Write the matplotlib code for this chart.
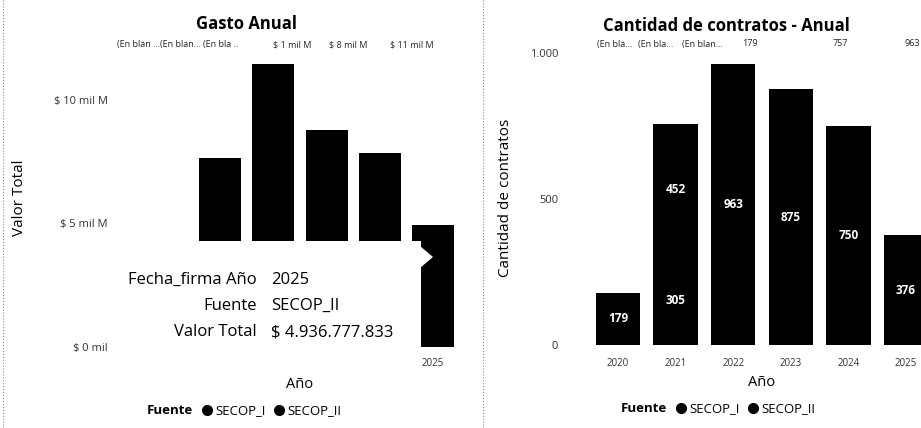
import matplotlib
matplotlib.use("Agg")
import matplotlib.pyplot as plt
from matplotlib.patches import Rectangle, Polygon
from matplotlib.lines import Line2D

plt.rcParams['font.family'] = ['Open Sans', 'DejaVu Sans']

# data
years = ['2020', '2021', '2022', '2023', '2024', '2025']
gasto_secop_i = [1.0, 3.0, 0, 0, 0, 0]              # mil M
gasto_secop_ii = [0, 4.65, 11.46, 8.79, 7.85, 4.94]  # mil M
gasto_ticks = [0, 5, 10]
gasto_tick_labels = ['$ 0 mil', '$ 5 mil M', '$ 10 mil M']
gasto_top_labels = ['(En blan ...', '(En blan...', '(En bla ..', '$ 1 mil M', '$ 8 mil M', '$ 11 mil M']

contratos_secop_i = [179, 305, 0, 0, 0, 0]
contratos_secop_ii = [0, 452, 963, 875, 750, 376]
contratos_ticks = [0, 500, 1000]
contratos_tick_labels = ['0', '500', '1.000']
contratos_top_labels = ['(En bla...', '(En bla...', '(En blan...', '179', '757', '963']

tooltip_keys = ['Fecha_firma Año', 'Fuente', 'Valor Total']
tooltip_vals = ['2025', 'SECOP_II', '$ 4.936.777.833']

W, H = 921, 428
def fx(px):
    return px / W
def fy(py):
    return 1 - py / H

fig = plt.figure(figsize=(W / 100, H / 100), dpi=100)
fig.patch.set_facecolor('white')

c1 = '#000000'
c2 = '#000000'
tick_col = '#333333'

def style(ax):
    for s in ax.spines.values():
        s.set_visible(False)
    ax.tick_params(length=0, colors=tick_col)
    ax.tick_params(axis='y', labelsize=8, pad=5)
    ax.tick_params(axis='x', labelsize=7)
    ax.set_facecolor('none')

# ---- left: Gasto Anual
ax1 = fig.add_axes([fx(115), fy(347), fx(460) - fx(115), fy(58) - fy(347)])
x = list(range(len(years)))
ax1.bar(x, gasto_secop_i, width=0.79, color=c1)
ax1.bar(x, gasto_secop_ii, width=0.79, bottom=gasto_secop_i, color=c2)
ax1.set_xlim(-0.977, 5.507)
ax1.set_ylim(0, 11.7)
ax1.set_yticks(gasto_ticks)
ax1.set_yticklabels(gasto_tick_labels)
ax1.set_xticks(x)
ax1.set_xticklabels(years)
style(ax1)
ax1.tick_params(axis='x', pad=8)

fig.text(fx(246), fy(24), 'Gasto Anual', ha='center', va='center', fontsize=12, fontweight='bold')
left_pos = [139, 180, 221, 292, 348, 412]
for p, t in zip(left_pos, gasto_top_labels):
    fig.text(fx(p), fy(45), t, ha='center', va='center', fontsize=6.5, color='#222222')
fig.text(fx(20), fy(198), 'Valor Total', rotation=90, ha='center', va='center', fontsize=11)
fig.text(fx(300), fy(385), 'Año', ha='center', va='center', fontsize=10.5)

# ---- right: Cantidad de contratos
ax2 = fig.add_axes([fx(565), fy(345), (930 - 565) / W, (345 - 40) / H])
ax2.bar(x, contratos_secop_i, width=0.77, color=c1)
ax2.bar(x, contratos_secop_ii, width=0.77, bottom=contratos_secop_i, color=c2)
for i in x:
    if contratos_secop_i[i] > 0:
        ax2.text(i, contratos_secop_i[i] / 2, str(contratos_secop_i[i]), color='white',
                 ha='center', va='center', fontsize=8.5, fontweight='bold')
    if contratos_secop_ii[i] > 0:
        ax2.text(i, contratos_secop_i[i] + contratos_secop_ii[i] / 2, str(contratos_secop_ii[i]),
                 color='white', ha='center', va='center', fontsize=8.5, fontweight='bold')
ax2.set_xlim(-0.92, 5.417)
ax2.set_ylim(0, 1044)
ax2.set_yticks(contratos_ticks)
ax2.set_yticklabels(contratos_tick_labels)
ax2.set_xticks(x)
ax2.set_xticklabels(years)
style(ax2)
ax2.tick_params(axis='x', pad=9)

fig.text(fx(726), fy(26), 'Cantidad de contratos - Anual', ha='center', va='center',
         fontsize=12, fontweight='bold')
right_pos = [615, 656, 702, 750, 840, 912]
for p, t in zip(right_pos, contratos_top_labels):
    fig.text(fx(p), fy(44), t, ha='center', va='center', fontsize=6.5, color='#222222')
fig.text(fx(505), fy(198), 'Cantidad de contratos', rotation=90, ha='center', va='center', fontsize=11)
fig.text(fx(762), fy(382), 'Año', ha='center', va='center', fontsize=10.5)

# legends
def legend_at(ax, cx, cy):
    h = [Line2D([], [], linestyle='none'),
         Line2D([], [], marker='o', linestyle='none', color=c1, markersize=7),
         Line2D([], [], marker='o', linestyle='none', color=c2, markersize=7)]
    leg = ax.legend(h, ['Fuente', 'SECOP_I', 'SECOP_II'], ncol=3, frameon=False,
                    loc='center', bbox_to_anchor=(fx(cx), fy(cy)), bbox_transform=fig.transFigure,
                    fontsize=9.5, handlelength=0.7, handletextpad=0.25, columnspacing=0.7)
    leg.get_texts()[0].set_fontweight('bold')
    return leg

legend_at(ax1, 238, 411)
legend_at(ax2, 712, 409)

# tooltip over the left chart
tip = Rectangle((fx(108), fy(372)), fx(421) - fx(108), fy(241) - fy(372),
                transform=fig.transFigure, facecolor='white', edgecolor='none', zorder=5)
fig.patches.append(tip)
arrow = Polygon([(fx(420), fy(246)), (fx(433), fy(257)), (fx(420), fy(268))],
                closed=True, transform=fig.transFigure, facecolor='white', edgecolor='none', zorder=5)
fig.patches.append(arrow)
for i, (k, v) in enumerate(zip(tooltip_keys, tooltip_vals)):
    yy = fy(280 + i * 26)
    fig.text(fx(257), yy, k, ha='right', va='center', fontsize=12, zorder=6)
    fig.text(fx(271), yy, v, ha='left', va='center', fontsize=12, zorder=6)

# panel separators
fig.add_artist(Line2D([fx(3), fx(3)], [0, 1], transform=fig.transFigure, color='#888888',
                      linestyle=':', linewidth=0.8))
fig.add_artist(Line2D([fx(483), fx(483)], [0, 1], transform=fig.transFigure, color='#888888',
                      linestyle=':', linewidth=0.8))

fig.savefig('out.png', dpi=100)
